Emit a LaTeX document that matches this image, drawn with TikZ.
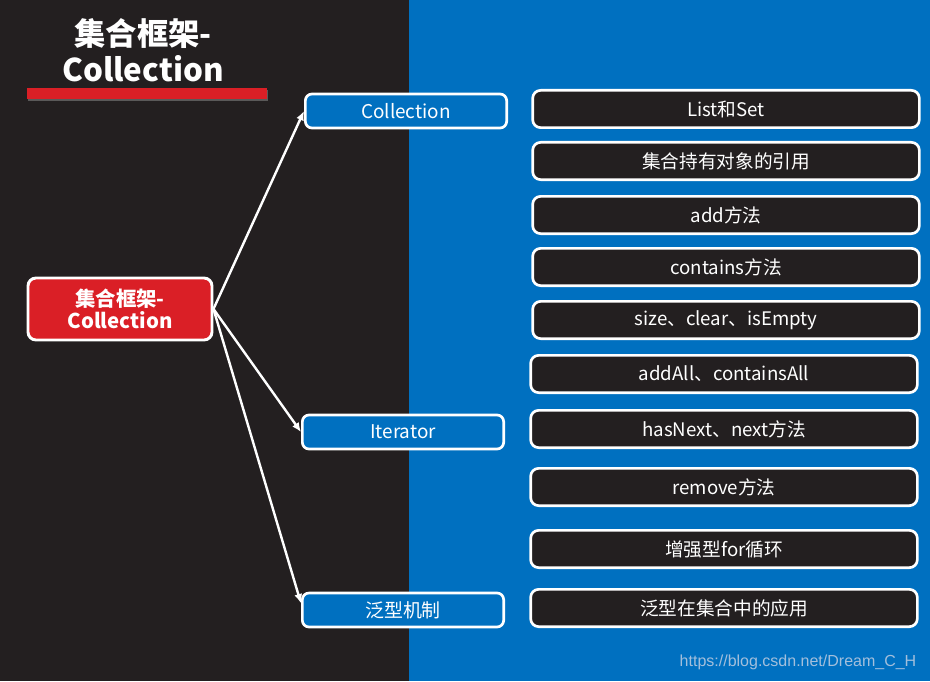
\documentclass[tikz,border=0pt]{standalone}
\usepackage{fontspec}
\setmainfont{Noto Sans CJK SC}
\newfontfamily\urlfont{Liberation Sans}
\usetikzlibrary{arrows.meta, positioning, shadows}

\definecolor{darkbg}{HTML}{231F20}
\definecolor{bluebg}{HTML}{0070C0}
\definecolor{redbar}{HTML}{DA1F26}
\definecolor{urlgray}{HTML}{A3BFDC}

\begin{document}
\begin{tikzpicture}[x=0.75pt, y=-0.75pt,
    topic/.style={rectangle, draw=white, line width=2.2pt, rounded corners=6pt, fill=redbar, minimum width=138pt, minimum height=46.5pt, align=center, text=white, font=\fontsize{15.3}{17}\selectfont\bfseries},
    branch/.style={rectangle, draw=white, line width=2pt, rounded corners=5pt, fill=bluebg, minimum width=151pt, minimum height=25.5pt, text=white, font=\fontsize{14.2}{15}\selectfont},
    leaf/.style={rectangle, draw=white, line width=2pt, rounded corners=6pt, fill=darkbg, minimum width=290pt, minimum height=28pt, text=white, font=\fontsize{14}{15}\selectfont},
    arr/.style={-{Latex[length=7pt, width=6pt]}, white, line width=1.8pt}
]
% background halves
\fill[darkbg] (0,0) rectangle (409,681);
\fill[bluebg] (409,0) rectangle (930,681);

% title
\node[text=white, align=center, font=\fontsize{23.5}{27}\selectfont\bfseries] (title) at (143,50) {集合框架-\\Collection};
\fill[redbar, drop shadow={shadow xshift=1pt, shadow yshift=-1.5pt, opacity=0.6}] (27,88) rectangle (267,99);

% main topic and branches
\node[topic] (main) at (120,309) {集合框架-\\Collection};
\node[branch] (coll) at (406,111) {Collection};
\node[branch] (iter) at (403,432) {Iterator};
\node[branch] (gen) at (403,610) {泛型机制};

% leaves
\node[leaf] (l1) at (726,109) {List和Set};
\node[leaf] (l2) at (726,161) {集合持有对象的引用};
\node[leaf] (l3) at (726,215) {add方法};
\node[leaf] (l4) at (726,267) {contains方法};
\node[leaf] (l5) at (726,320) {size、clear、isEmpty};
\node[leaf] (l6) at (724,374) {addAll、containsAll};
\node[leaf] (l7) at (724,429) {hasNext、next方法};
\node[leaf] (l8) at (724,487) {remove方法};
\node[leaf] (l9) at (724,549) {增强型for循环};
\node[leaf] (l10) at (724,608) {泛型在集合中的应用};

% arrows
\draw[arr] (main.east) -- (coll.west);
\draw[arr] (main.east) -- (iter.west);
\draw[arr] (main.east) -- ([yshift=5pt]gen.west);

% watermark
\node[text=urlgray, font=\urlfont\fontsize{12}{14}\selectfont, anchor=east] (url) at (921,662) {https://blog.csdn.net/Dream\_C\_H};
\end{tikzpicture}
\end{document}
